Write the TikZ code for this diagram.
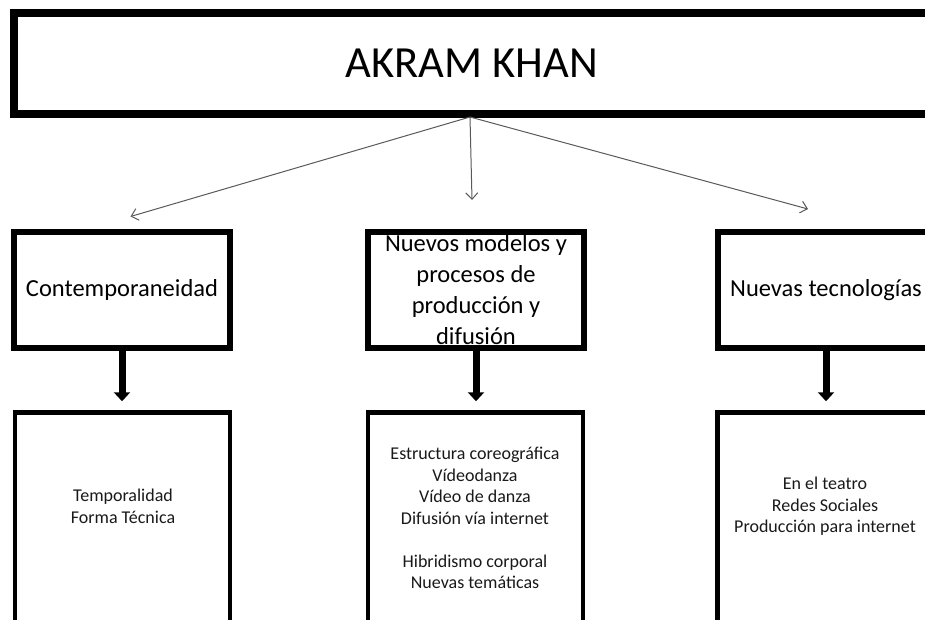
\documentclass[tikz,border=0pt]{standalone}
\usepackage{fontspec}
\setmainfont{Carlito}
\usetikzlibrary{arrows.meta}
\tikzset{
  headbox/.style={draw, line width=8pt, minimum width=916pt, minimum height=101.5pt,
    inner sep=0pt, font=\fontsize{44.5}{50}\selectfont},
  topicbox/.style={draw, line width=6pt, minimum width=216pt, minimum height=116pt,
    inner sep=0pt, align=center, font=\fontsize{24.5}{31}\selectfont},
  listbox/.style={draw, line width=4.5pt, minimum width=215pt, minimum height=260pt, inner sep=0pt},
  listtext/.style={align=center, inner sep=0pt, text=black!90, font=\fontsize{18}{21.5}\selectfont},
  linkarrow/.style={draw=black!65, line width=1pt, -{Straight Barb[length=6.5pt,width=12pt]}},
  downarrow/.style={line width=7pt, -{Triangle[length=9pt,width=16pt]}, shorten >=9pt},
}
\begin{document}
\begin{tikzpicture}[x=1pt,y=-1pt]
\useasboundingbox (0,0) rectangle (925,619);
\clip (0,0) rectangle (925,619);

% title
\node[headbox] (head) at (472,63.5) {AKRAM KHAN};

% three topics
\node[topicbox] (t1) at (122,290) {Contemporaneidad};
\node[topicbox] (t2) at (476,290) {Nuevos modelos y\\procesos de\\producción y\\difusión};
\node[topicbox] (t3) at (826,290) {Nuevas tecnologías};

% detail boxes (running off the page bottom)
\node[listbox] (l1) at (122.5,542.5) {};
\node[listbox] (l2) at (475.5,542.5) {};
\node[listbox] (l3) at (825,542.5) {};

\node[listtext] (x1) at (123,506.5) {Temporalidad\\Forma Técnica};
\node[listtext] (x2) at (475,518) {Estructura coreográfica\\Vídeodanza\\Vídeo de danza\\Difusión vía internet\\[21.5pt]Hibridismo corporal\\Nuevas temáticas};
\node[listtext] (x3) at (825,506.5) {En el teatro\\Redes Sociales\\Producción para internet};

% thin links from the title
\coordinate (hub) at (470,117);
\coordinate (e1) at (130.5,216.5);
\coordinate (e2) at (472,200);
\coordinate (e3) at (808,209);
\draw[linkarrow] (hub) -- (e1);
\draw[linkarrow] (hub) -- (e2);
\draw[linkarrow] (hub) -- (e3);

% heavy arrows down to the details
\draw[downarrow] (t1.south) -- (t1.south |- l1.north);
\draw[downarrow] (t2.south) -- (t2.south |- l2.north);
\draw[downarrow] (t3.south) -- (t3.south |- l3.north);
\end{tikzpicture}
\end{document}
